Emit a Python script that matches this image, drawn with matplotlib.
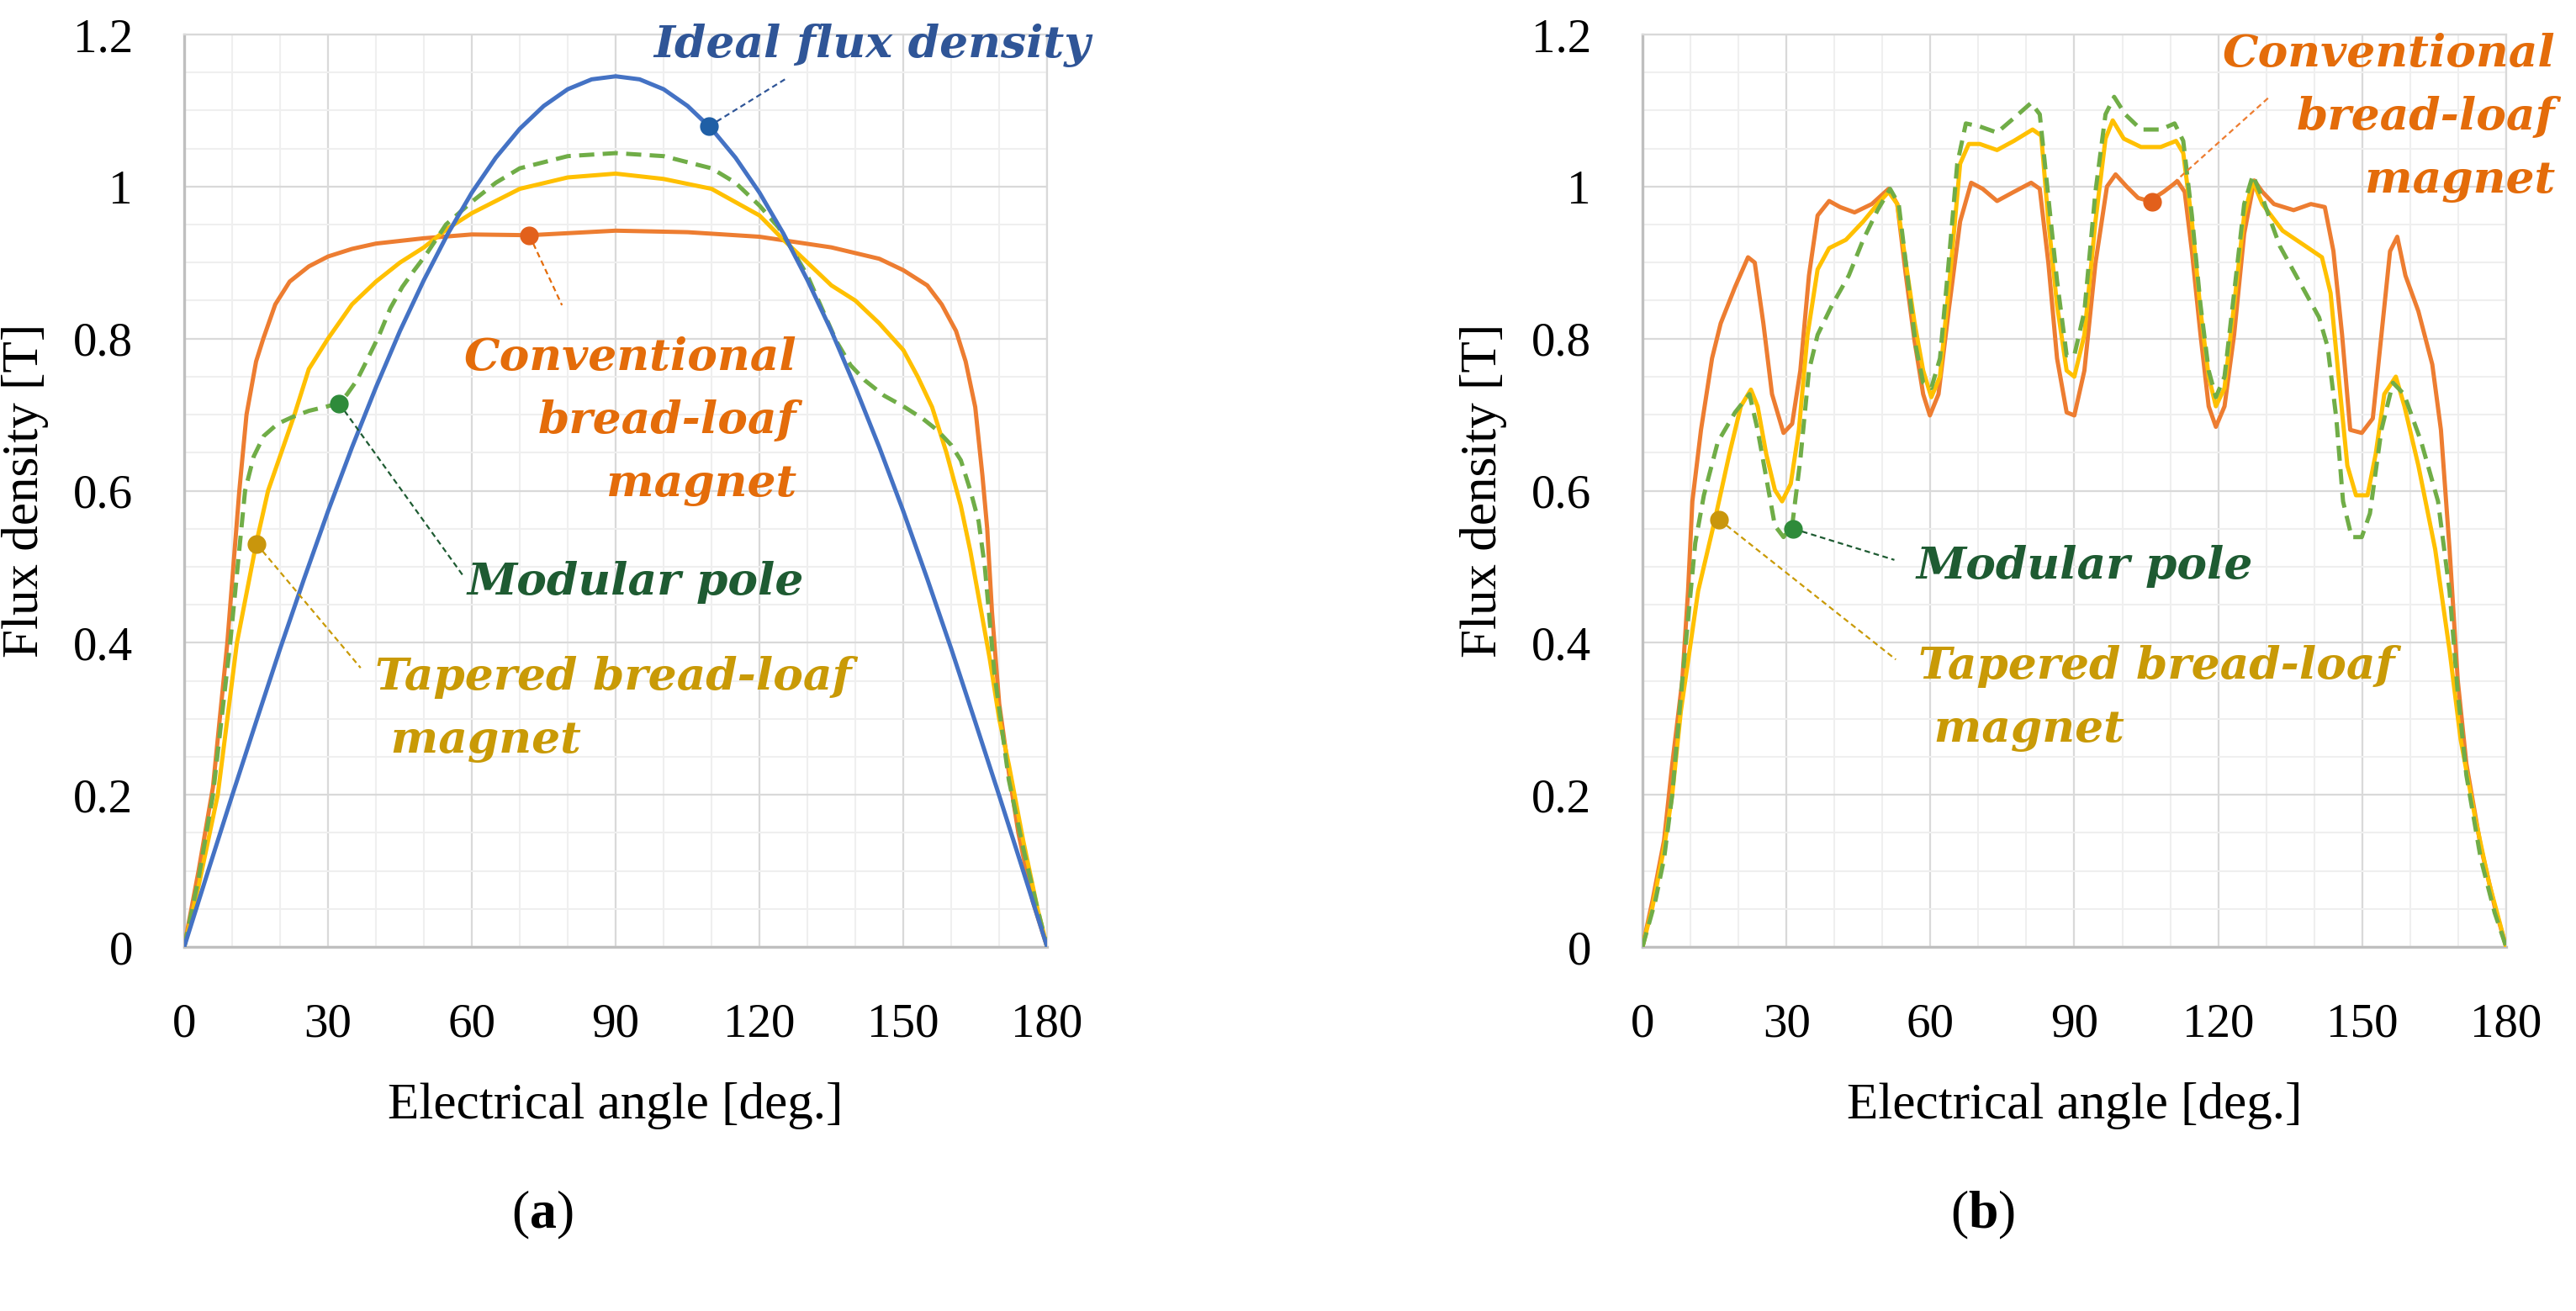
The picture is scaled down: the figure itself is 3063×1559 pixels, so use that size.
import matplotlib
matplotlib.use("Agg")
import matplotlib.pyplot as plt

plt.rcParams['font.family'] = ['Liberation Serif', 'DejaVu Serif']
plt.rcParams['mathtext.fontset'] = 'custom'
plt.rcParams['mathtext.rm'] = 'Liberation Serif'
plt.rcParams['mathtext.bf'] = 'Liberation Serif:bold'

# ---- data ----
# (a) no-load flux density under one pole
ideal_deg = [0, 5, 10, 15, 20, 25, 30, 35, 40, 45, 50, 55, 60, 65, 70, 75, 80, 85, 90,
             95, 100, 105, 110, 115, 120, 125, 130, 135, 140, 145, 150, 155, 160, 165, 170, 175, 180]
ideal_b = [0, 0.10, 0.199, 0.296, 0.392, 0.484, 0.573, 0.657, 0.736, 0.81, 0.877, 0.938, 0.992,
           1.038, 1.076, 1.106, 1.128, 1.141, 1.145, 1.141, 1.128, 1.106, 1.076, 1.038, 0.992,
           0.938, 0.877, 0.81, 0.736, 0.657, 0.573, 0.484, 0.392, 0.296, 0.199, 0.10, 0]

conv_a_deg = [0, 3, 6, 9, 11.5, 13, 15, 16.5, 19, 22, 26, 30, 35, 40, 50, 60, 72, 90, 105,
              120, 135, 145, 150, 155, 158, 161, 163, 165, 166.5, 167.5, 168.5, 170, 172, 174, 177, 180]
conv_a_b = [0, 0.1, 0.21, 0.4, 0.6, 0.7, 0.77, 0.8, 0.845, 0.875, 0.895, 0.908, 0.918, 0.925,
            0.932, 0.937, 0.936, 0.942, 0.94, 0.934, 0.92, 0.905, 0.89, 0.87, 0.845, 0.81, 0.77,
            0.71, 0.62, 0.55, 0.44, 0.32, 0.23, 0.15, 0.06, 0]

taper_a_deg = [0, 3, 7, 11, 15, 17.5, 23, 26, 30, 35, 40, 45, 50, 55, 60, 70, 80, 90, 100, 110,
               120, 125, 130, 135, 140, 145, 150, 153, 156, 159, 162, 164, 166, 168, 170, 172, 175, 178, 180]
taper_a_b = [0, 0.08, 0.2, 0.4, 0.53, 0.6, 0.7, 0.76, 0.8, 0.845, 0.875, 0.9, 0.92, 0.945, 0.965,
             0.997, 1.012, 1.017, 1.01, 0.997, 0.962, 0.93, 0.9, 0.87, 0.85, 0.82, 0.785, 0.75,
             0.71, 0.65, 0.58, 0.52, 0.45, 0.38, 0.3, 0.24, 0.14, 0.05, 0]

modular_a_deg = [0, 3, 6, 9.6, 12.7, 14.5, 16.6, 19.5, 22.6, 26, 29.9, 32.3, 34, 36, 38, 40.7, 43,
                 45.5, 48, 50.4, 54.6, 60, 65, 70, 80, 90, 100, 110, 115, 120, 124, 127, 130, 133,
                 136, 139, 142, 146, 150, 154, 157, 160, 162, 164, 165.7, 167, 168, 169, 170.5, 172,
                 175, 178, 180]
modular_a_b = [0, 0.09, 0.2, 0.4, 0.6, 0.645, 0.672, 0.688, 0.697, 0.705, 0.711, 0.715, 0.727,
               0.745, 0.77, 0.805, 0.84, 0.868, 0.89, 0.91, 0.95, 0.98, 1.005, 1.024, 1.04, 1.044,
               1.04, 1.024, 1.005, 0.975, 0.946, 0.915, 0.883, 0.84, 0.797, 0.765, 0.745, 0.725,
               0.711, 0.695, 0.68, 0.66, 0.64, 0.6, 0.56, 0.5, 0.43, 0.36, 0.29, 0.22, 0.13, 0.05, 0]

# (b) flux density with slotted stator
conv_b_deg = [0, 2.1, 4.5, 6.2, 8.3, 9.5, 10.4, 12.2, 14.5, 16.3, 19.3, 22, 23.4, 25.2, 27, 29.4,
              31.2, 32.9, 34.7, 36.5, 38.9, 41.2, 44.2, 47.8, 51.3, 53.1, 54.9, 56.7, 58.5, 59.9,
              61.7, 63.8, 66.2, 68.5, 70.9, 73.9, 77.4, 81, 82.8, 84.6, 86.4, 88.4, 90, 92.1, 94.4,
              96.8, 98.6, 100.9, 103.3, 105.6, 108.6, 111.5, 113, 114.5, 116.3, 118, 119.5, 121.3,
              123.3, 125.4, 127.5, 129.2, 131.6, 135.7, 139.3, 142.2, 144, 145.8, 147.5, 149.9,
              152.2, 154, 155.8, 157.3, 159, 161.7, 164.6, 166.4, 168.2, 169.9, 171.7, 174.7,
              177.6, 180]
conv_b_b = [0, 0.061, 0.14, 0.24, 0.35, 0.468, 0.586, 0.68, 0.774, 0.82, 0.868, 0.907, 0.9, 0.82,
            0.727, 0.676, 0.688, 0.758, 0.883, 0.962, 0.981, 0.973, 0.966, 0.977, 0.997, 0.977,
            0.883, 0.797, 0.727, 0.699, 0.727, 0.836, 0.954, 1.005, 0.997, 0.981, 0.993, 1.005,
            0.997, 0.899, 0.774, 0.703, 0.699, 0.758, 0.899, 1.0, 1.016, 1.0, 0.985, 0.981, 0.993,
            1.007, 0.993, 0.915, 0.805, 0.711, 0.684, 0.711, 0.805, 0.938, 1.008, 0.993, 0.977,
            0.969, 0.977, 0.973, 0.915, 0.805, 0.68, 0.676, 0.695, 0.805, 0.915, 0.934, 0.883,
            0.836, 0.766, 0.68, 0.523, 0.351, 0.241, 0.132, 0.053, 0]

taper_b_deg = [0, 2.1, 4.5, 6.2, 8, 11.6, 15.1, 18.1, 20.5, 22.6, 24, 25.8, 27.6, 29.1, 30.9, 32.6,
               34.4, 36.5, 38.9, 42.4, 46, 49, 51.3, 53.1, 54.9, 56.7, 58.5, 60.2, 62, 64.1, 66.2,
               68, 70.3, 73.9, 77.4, 81.3, 83.1, 84.6, 86.4, 88.4, 90, 92.1, 94.4, 96.5, 98, 100.3,
               103.9, 108, 111.2, 112.7, 114.5, 116.3, 118, 119.5, 121.3, 123.3, 125.4, 127.2,
               129.2, 133.4, 138.1, 141.6, 143.4, 145.2, 146.9, 148.7, 151.1, 152.8, 154.6, 157,
               158.8, 161.7, 165.2, 168.2, 170.5, 173.5, 176.4, 180]
taper_b_b = [0, 0.053, 0.13, 0.2, 0.31, 0.468, 0.562, 0.648, 0.711, 0.733, 0.711, 0.648, 0.601,
             0.586, 0.609, 0.68, 0.805, 0.891, 0.919, 0.93, 0.954, 0.977, 0.993, 0.977, 0.899,
             0.821, 0.758, 0.723, 0.75, 0.883, 1.03, 1.056, 1.056, 1.048, 1.06, 1.075, 1.067,
             0.954, 0.844, 0.758, 0.75, 0.805, 0.954, 1.063, 1.087, 1.063, 1.052, 1.052, 1.06,
             1.044, 0.954, 0.836, 0.75, 0.711, 0.735, 0.844, 0.962, 1.007, 0.977, 0.942, 0.922,
             0.907, 0.86, 0.742, 0.633, 0.594, 0.594, 0.648, 0.727, 0.75, 0.711, 0.633, 0.523,
             0.39, 0.273, 0.171, 0.085, 0]

modular_b_deg = [0, 2.7, 4.5, 6.2, 8.3, 11, 12.8, 15.7, 19.3, 22.3, 24, 25.8, 27.6, 29.4, 31.2,
                 32.9, 34.7, 36.5, 39.5, 43, 46, 49, 51.6, 53.4, 55.2, 57, 58.5, 60.2, 62, 63.8,
                 65.6, 67.4, 70.3, 73.9, 77.4, 81, 82.8, 84.6, 86.4, 88.4, 90, 92.1, 94.4, 96.5,
                 98.3, 100.6, 103.9, 108, 110.9, 112.7, 114.5, 116.3, 118, 119.5, 121.3, 123.3,
                 125.4, 127.2, 129.2, 132.8, 136.9, 141, 142.8, 144.6, 146, 147.8, 149.9, 151.6,
                 154, 156.4, 158.7, 162.3, 165.8, 168.2, 169.9, 171.7, 174.7, 177.6, 180]
modular_b_b = [0, 0.061, 0.116, 0.2, 0.35, 0.531, 0.594, 0.664, 0.703, 0.727, 0.68, 0.617, 0.554,
               0.539, 0.554, 0.641, 0.758, 0.805, 0.844, 0.883, 0.93, 0.969, 0.997, 0.977, 0.883,
               0.789, 0.742, 0.735, 0.774, 0.899, 1.03, 1.083, 1.079, 1.071, 1.09, 1.11, 1.095,
               0.985, 0.876, 0.778, 0.778, 0.836, 0.993, 1.095, 1.118, 1.095, 1.075, 1.075, 1.083,
               1.06, 0.962, 0.844, 0.758, 0.723, 0.75, 0.86, 0.977, 1.015, 0.985, 0.922, 0.875,
               0.828, 0.789, 0.695, 0.586, 0.539, 0.539, 0.57, 0.68, 0.742, 0.727, 0.664, 0.586,
               0.468, 0.335, 0.226, 0.116, 0.045, 0]

# ---- colours ----
c_blue, c_orange, c_yellow, c_green = '#4472C4', '#ED7D31', '#FFC000', '#70AD47'
t_blue, t_orange, t_gold, t_green = '#2F5597', '#E46C0A', '#C99A06', '#1E5B32'
m_blue, m_orange, m_gold, m_green = '#1F5FA6', '#E2601B', '#C9960C', '#2E8B3A'

lw = 3.6
ann_font = dict(family='DejaVu Serif', style='italic', weight='bold', fontsize=38.5)

fig = plt.figure(figsize=(30.63, 15.59), dpi=100)
ax1 = fig.add_axes([0.0715, 0.2777, 0.335, 0.696])
ax2 = fig.add_axes([0.6376, 0.2777, 0.3353, 0.696])


def style(ax):
    ax.set_xlim(0, 180)
    ax.set_ylim(0, 1.2)
    ax.set_xticks(range(0, 181, 30))
    ax.set_xticks(range(0, 181, 10), minor=True)
    ax.set_yticks([0, 0.2, 0.4, 0.6, 0.8, 1.0, 1.2])
    ax.set_yticklabels(['0', '0.2', '0.4', '0.6', '0.8', '1', '1.2'])
    ax.set_yticks([i * 0.05 for i in range(25)], minor=True)
    ax.grid(which='major', color='#D9D9D9', lw=1.6)
    ax.grid(which='minor', color='#EFEFEF', lw=1.5)
    ax.set_axisbelow(True)
    ax.tick_params(which='both', length=0, labelsize=41)
    ax.tick_params(axis='x', pad=48)
    ax.tick_params(axis='y', pad=44)
    for s in ['left', 'bottom']:
        ax.spines[s].set_color('#BFBFBF')
        ax.spines[s].set_linewidth(2.4)
    for s in ['top', 'right']:
        ax.spines[s].set_color('#D9D9D9')
        ax.spines[s].set_linewidth(1.6)
    ax.set_xlabel('Electrical angle [deg.]', fontsize=44)
    ax.set_ylabel('Flux density [T]', fontsize=44)
    ax.xaxis.set_label_coords(0.5, -0.148)
    ax.yaxis.set_label_coords(-0.157, 0.5)


def callout(ax, mx, my, ex, ey, mcol, lcol):
    ax.plot([mx, ex], [my, ey], color=lcol, lw=1.6, ls=(0, (3, 2)), zorder=5, clip_on=False)
    ax.plot(mx, my, 'o', ms=15, color=mcol, zorder=6, clip_on=False)


style(ax1)
style(ax2)

# panel (a)
ax1.plot(conv_a_deg, conv_a_b, color=c_orange, lw=lw, zorder=3)
ax1.plot(taper_a_deg, taper_a_b, color=c_yellow, lw=lw, zorder=3)
ax1.plot(modular_a_deg, modular_a_b, color=c_green, lw=lw, dashes=(3.6, 2), zorder=3)
ax1.plot(ideal_deg, ideal_b, color=c_blue, lw=lw, zorder=4)

callout(ax1, 109.4, 1.079, 125.3, 1.141, m_blue, t_blue)
callout(ax1, 72, 0.936, 78.8, 0.844, m_orange, t_orange)
callout(ax1, 32.3, 0.715, 58.2, 0.488, m_green, t_green)
callout(ax1, 15.1, 0.53, 36.8, 0.367, m_gold, t_gold)

ax1.text(189, 1.186, 'Ideal flux density', color=t_blue, ha='right', va='center',
         clip_on=False, **ann_font)
ax1.text(127.7, 0.691, 'Conventional\nbread-loaf\nmagnet', color=t_orange, ha='right',
         va='center', multialignment='right', linespacing=1.6, **ann_font)
ax1.text(129.3, 0.48, 'Modular pole', color=t_green, ha='right', va='center', **ann_font)
ax1.text(39.8, 0.313, 'Tapered bread-loaf\n magnet', color=t_gold, ha='left', va='center',
         multialignment='left', linespacing=1.6, **ann_font)

# panel (b)
ax2.plot(conv_b_deg, conv_b_b, color=c_orange, lw=lw, zorder=3)
ax2.plot(taper_b_deg, taper_b_b, color=c_yellow, lw=lw, zorder=3)
ax2.plot(modular_b_deg, modular_b_b, color=c_green, lw=lw, dashes=(3.6, 2), zorder=4)

callout(ax2, 106.3, 0.98, 130.5, 1.117, m_orange, c_orange)
callout(ax2, 31.4, 0.55, 52.5, 0.509, m_green, t_green)
callout(ax2, 16.0, 0.562, 52.8, 0.378, m_gold, t_gold)

ax2.text(190.2, 1.091, 'Conventional\nbread-loaf\nmagnet', color=t_orange, ha='right',
         va='center', multialignment='right', linespacing=1.6, clip_on=False, **ann_font)
ax2.text(57.0, 0.501, 'Modular pole', color=t_green, ha='left', va='center', **ann_font)
ax2.text(57.5, 0.327, 'Tapered bread-loaf\n magnet', color=t_gold, ha='left', va='center',
         multialignment='left', linespacing=1.6, **ann_font)

fig.text(645 / 3063, 1 - 1445 / 1559, r'($\mathbf{a}$)', fontsize=46, ha='center', va='center')
fig.text(2358 / 3063, 1 - 1445 / 1559, r'($\mathbf{b}$)', fontsize=46, ha='center', va='center')

fig.savefig('out.png', dpi=100)
